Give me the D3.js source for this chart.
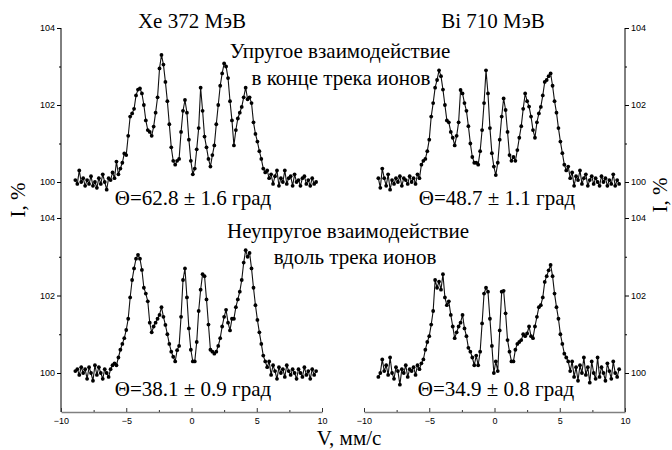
<!DOCTYPE html>
<html>
<head>
<meta charset="utf-8">
<script src="https://cdn.jsdelivr.net/npm/d3@7"></script>
<style>
html,body{margin:0;padding:0;background:#fff;}
svg{display:block;}
</style>
</head>
<body>
<script>
// Velocity channels, mm/s
const velocity = [
-8.9,-8.75,-8.6,-8.45,-8.3,-8.15,-8.0,-7.85,-7.7,-7.55,-7.4,-7.25,-7.1,-6.95,-6.8,-6.65,-6.5,-6.35,-6.2,-6.05,
-5.9,-5.75,-5.6,-5.45,-5.3,-5.15,-5.0,-4.85,-4.7,-4.55,-4.4,-4.25,-4.1,-3.95,-3.8,-3.65,-3.5,-3.35,-3.2,-3.05,
-2.9,-2.75,-2.6,-2.45,-2.3,-2.15,-2.0,-1.85,-1.7,-1.55,-1.4,-1.25,-1.1,-0.95,-0.8,-0.65,-0.5,-0.35,-0.2,-0.05,
0.1,0.25,0.4,0.55,0.7,0.85,1.0,1.15,1.3,1.45,1.6,1.75,1.9,2.05,2.2,2.35,2.5,2.65,2.8,2.95,
3.1,3.25,3.4,3.55,3.7,3.85,4.0,4.15,4.3,4.45,4.6,4.75,4.9,5.05,5.2,5.35,5.5,5.65,5.8,5.95,
6.1,6.25,6.4,6.55,6.7,6.85,7.0,7.15,7.3,7.45,7.6,7.75,7.9,8.05,8.2,8.35,8.5,8.65,8.8,8.95,
9.1,9.25,9.4,9.55];

// Xe 372 MeV, elastic (top left), I %
const xeElastic = [
100.05,99.95,100.3,100.0,100.1,99.9,100.05,99.95,100.15,99.9,100.0,99.85,100.1,99.95,100.2,100.0,99.8,100.1,100.05,100.25,
100.1,100.53,100.2,100.35,100.5,100.74,100.7,101.2,101.7,101.78,101.9,102.25,102.4,102.43,102.3,102.0,101.6,101.35,101.3,101.2,
101.44,101.8,102.2,102.95,103.3,103.05,102.6,102.1,101.5,100.9,100.55,100.45,100.55,100.6,101.3,101.85,102.13,101.8,101.1,100.55,
100.2,100.35,100.85,101.4,102.45,101.85,101.18,100.9,100.6,100.4,100.7,100.95,101.5,102.0,102.5,102.82,103.08,103.0,102.7,102.1,
101.6,100.95,101.35,101.65,101.8,101.95,102.2,102.45,102.15,102.2,102.05,101.55,101.25,101.05,100.8,100.6,100.35,100.25,100.3,100.1,
100.2,99.95,100.15,100.3,99.9,100.1,100.0,100.3,99.95,100.1,100.15,99.9,100.2,100.0,100.05,99.9,100.1,100.15,99.95,100.05,
99.9,100.1,99.95,100.0];

// Bi 710 MeV, elastic (top right)
const biElastic = [
100.1,99.85,100.35,100.1,99.9,100.2,99.8,100.05,99.95,100.1,100.0,100.15,99.9,100.1,100.05,99.95,100.15,100.0,100.1,99.95,
100.2,100.1,100.45,100.55,100.6,100.8,101.1,101.7,102.05,102.45,102.65,102.9,102.75,102.4,102.0,101.6,101.55,101.3,101.15,100.95,
101.2,101.55,102.39,102.3,102.05,101.85,101.45,101.0,100.65,100.5,100.5,100.45,100.8,101.35,102.05,102.9,102.3,101.4,100.75,100.4,
100.18,100.5,101.1,101.7,102.17,101.87,101.3,100.7,100.55,100.65,100.55,100.83,101.15,101.45,101.9,102.3,102.1,101.96,101.7,101.35,
101.15,101.55,101.78,101.95,102.25,102.6,102.65,102.75,102.82,102.5,102.1,101.8,101.4,101.05,100.75,100.45,100.3,100.4,100.1,100.25,
99.9,100.15,100.05,100.3,99.95,100.1,100.2,99.9,100.05,100.15,99.95,100.1,100.0,99.9,100.15,100.0,100.1,99.9,100.05,99.95,
100.2,99.9,100.05,99.95];

// Xe 372 MeV, inelastic (bottom left)
const xeInelastic = [
100.05,100.1,99.95,100.15,100.0,100.1,99.85,100.15,100.0,99.8,100.2,99.95,100.15,100.0,99.85,100.1,100.0,99.9,100.1,100.2,
100.25,100.2,100.4,100.6,100.75,100.9,101.11,101.4,101.95,102.4,102.7,102.95,103.05,102.95,102.66,102.2,102.05,101.85,101.3,101.05,
101.2,101.3,101.4,101.5,101.7,101.45,101.24,101.0,100.75,100.55,100.42,100.3,100.59,100.7,101.45,102.4,102.7,101.95,101.15,100.6,
100.3,100.3,100.8,101.6,102.15,102.55,102.5,101.9,101.25,100.6,100.55,100.5,100.55,100.7,100.9,101.2,101.45,101.63,101.3,101.1,
101.4,101.4,101.7,101.9,102.1,102.4,102.85,103.17,103.0,103.1,102.7,102.2,101.75,101.37,101.05,100.75,100.45,100.3,100.15,100.3,
99.95,100.2,100.05,99.85,100.15,100.0,100.1,99.9,100.2,100.05,99.95,100.1,100.0,99.85,100.1,100.0,99.9,100.15,99.95,100.05,
99.85,100.1,99.95,100.05];

// Bi 710 MeV, inelastic (bottom right)
const biInelastic = [
99.9,100.0,100.35,100.05,100.2,99.95,100.4,100.0,99.85,100.15,100.05,99.7,100.1,100.0,100.2,99.9,100.1,100.05,100.15,99.95,
100.2,100.1,100.25,100.35,100.6,100.8,100.95,101.25,101.6,102.4,102.2,102.36,102.15,102.55,101.95,101.75,101.85,101.5,101.2,100.9,
101.05,101.2,101.3,101.5,101.15,100.95,100.65,100.55,100.4,100.2,100.45,100.2,100.55,101.28,102.05,102.2,102.1,101.4,100.7,100.0,
100.3,100.05,101.1,102.1,102.12,101.54,100.85,100.55,100.3,100.3,100.6,100.75,100.8,100.85,101.0,100.95,101.02,101.2,100.95,100.9,
101.2,101.45,101.7,101.75,101.95,102.35,102.5,102.65,102.79,102.5,102.05,101.7,101.4,101.0,100.75,100.5,100.4,100.3,100.05,100.3,
99.9,100.15,99.8,100.2,100.0,100.4,99.95,100.15,99.75,100.3,100.0,99.85,100.4,99.9,100.15,100.0,99.8,100.25,100.05,99.85,
100.3,100.0,99.9,100.1];

const xTicks = [-10, -5, 0, 5, 10];
const xMinorTicks = [-7.5, -2.5, 2.5, 7.5];
const yTicks = [100, 102, 104];
const yMinorTicks = [101, 103];

const titles = ["Xe 372 МэВ", "Bi 710 МэВ"];
const rowLabels = [["Упругое взаимодействие", "в конце трека ионов"], ["Неупругое взаимодействие", "вдоль трека ионов"]];
const thetaLabels = ["Θ=62.8 ± 1.6 град", "Θ=48.7 ± 1.1 град", "Θ=38.1 ± 0.9 град", "Θ=34.9 ± 0.8 град"];
const yLabel = "I, %";
const xLabel = "V, мм/с";

const W = 672, H = 450;
const svg = d3.select("body").append("svg").attr("width", W).attr("height", H);

const serif = "'Liberation Serif','Times New Roman',serif";
const sans = "'Liberation Sans',Arial,sans-serif";

const xLeft = d3.scaleLinear().domain([-10, 10]).range([61, 322]);
const xRight = d3.scaleLinear().domain([-10, 10]).range([364, 625]);
const yTop = d3.scaleLinear().domain([100, 104]).range([182, 28]);
const yBot = d3.scaleLinear().domain([100, 104]).range([373, 218]);
const axisY = 412;

const panels = [
  {x: xLeft, y: yTop, data: xeElastic},
  {x: xRight, y: yTop, data: biElastic},
  {x: xLeft, y: yBot, data: xeInelastic},
  {x: xRight, y: yBot, data: biInelastic}
];

// spectra
panels.forEach(p => {
  const pts = velocity.map((v, i) => [v, p.data[i]]);
  const line = d3.line().x(d => p.x(d[0])).y(d => p.y(d[1]));
  svg.append("path").attr("d", line(pts)).attr("fill", "none")
    .attr("stroke", "#111").attr("stroke-width", 1.1);
  svg.append("g").selectAll("circle").data(pts).join("circle")
    .attr("cx", d => p.x(d[0])).attr("cy", d => p.y(d[1])).attr("r", 1.9)
    .attr("fill", "#000");
});

// y axes (left and right)
function yAxisGroup(scale, xPos, left) {
  const ax = (left ? d3.axisLeft(scale) : d3.axisRight(scale))
    .tickValues(yTicks).tickSize(4).tickSizeOuter(0).tickPadding(2).tickFormat(d3.format("d"));
  const g = svg.append("g").attr("transform", `translate(${xPos},0)`).call(ax);
  g.select(".domain").remove();
  g.selectAll("text").attr("font-family", sans).attr("font-size", 9).attr("fill", "#000");
  g.selectAll("line").attr("stroke", "#000");
  const axm = (left ? d3.axisLeft(scale) : d3.axisRight(scale))
    .tickValues(yMinorTicks).tickSize(2).tickSizeOuter(0).tickFormat("");
  const gm = svg.append("g").attr("transform", `translate(${xPos},0)`).call(axm);
  gm.select(".domain").remove();
  gm.selectAll("line").attr("stroke", "#000");
}
yAxisGroup(yTop, 61, true);
yAxisGroup(yBot, 61, true);
yAxisGroup(yTop, 625, false);
yAxisGroup(yBot, 625, false);
svg.append("line").attr("x1", 61).attr("x2", 61).attr("y1", 28).attr("y2", axisY).attr("stroke", "#000").attr("stroke-width", 1);
svg.append("line").attr("x1", 625).attr("x2", 625).attr("y1", 28).attr("y2", axisY).attr("stroke", "#000").attr("stroke-width", 1);

// x axes
[xLeft, xRight].forEach(sc => {
  const ax = d3.axisBottom(sc).tickValues(xTicks).tickSize(-4).tickSizeOuter(0).tickPadding(6).tickFormat(d3.format("d"));
  const g = svg.append("g").attr("transform", `translate(0,${axisY})`).call(ax);
  g.select(".domain").attr("stroke", "#808080").attr("stroke-width", 1.6);
  g.selectAll("line").attr("stroke", "#333");
  g.selectAll("text").attr("font-family", sans).attr("font-size", 9).attr("fill", "#000");
  const axm = d3.axisBottom(sc).tickValues(xMinorTicks).tickSize(-2).tickSizeOuter(0).tickFormat("");
  const gm = svg.append("g").attr("transform", `translate(0,${axisY})`).call(axm);
  gm.select(".domain").remove();
  gm.selectAll("line").attr("stroke", "#333");
});

// texts
function txt(x, y, s, size, anchor) {
  svg.append("text").attr("x", x).attr("y", y).attr("text-anchor", anchor || "middle")
    .attr("font-family", serif).attr("font-size", size).attr("fill", "#000").text(s);
}
const fs = 21;
txt(192, 28, titles[0], fs);
txt(493, 28, titles[1], fs);
txt(340, 58, rowLabels[0][0], fs);
txt(341, 85, rowLabels[0][1], fs);
txt(348, 238, rowLabels[1][0], fs);
txt(355, 264, rowLabels[1][1], fs);
txt(193, 205, thetaLabels[0], fs);
txt(497, 205, thetaLabels[1], fs);
txt(193, 396, thetaLabels[2], fs);
txt(496, 396, thetaLabels[3], fs);
txt(349, 445, xLabel, fs);

svg.append("text").attr("transform", "translate(25,200) rotate(-90)").attr("text-anchor", "middle")
  .attr("font-family", serif).attr("font-size", fs).text(yLabel);
svg.append("text").attr("transform", "translate(667,195) rotate(-90)").attr("text-anchor", "middle")
  .attr("font-family", serif).attr("font-size", fs).text(yLabel);
</script>
</body>
</html>
